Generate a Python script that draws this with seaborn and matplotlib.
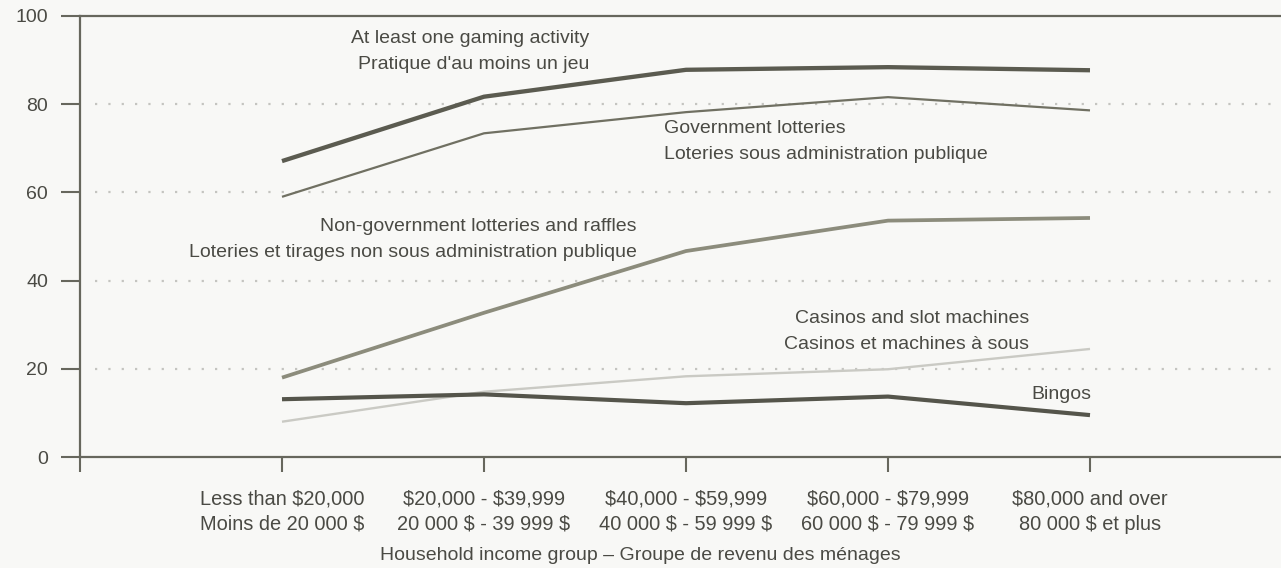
import matplotlib
matplotlib.use("Agg")
import matplotlib.pyplot as plt
import seaborn as sns
import pandas as pd

# ---- data ----
categories_en = ["Less than $20,000", "$20,000 - $39,999", "$40,000 - $59,999",
                 "$60,000 - $79,999", "$80,000 and over"]
categories_fr = ["Moins de 20 000 $", "20 000 $ - 39 999 $", "40 000 $ - 59 999 $",
                 "60 000 $ - 79 999 $", "80 000 $ et plus"]
at_least_one = [67.1, 81.7, 87.8, 88.4, 87.7]
gov_lotteries = [59.0, 73.4, 78.2, 81.6, 78.6]
non_gov_lotteries = [18.0, 32.7, 46.7, 53.6, 54.2]
casinos = [8.0, 14.8, 18.3, 19.9, 24.5]
bingos = [13.1, 14.2, 12.2, 13.7, 9.5]
y_ticks = [0, 20, 40, 60, 80, 100]

series_names = ["at_least_one", "gov", "non_gov", "casinos", "bingos"]
series_values = [at_least_one, gov_lotteries, non_gov_lotteries, casinos, bingos]

rows = []
for name, vals in zip(series_names, series_values):
    for i, v in enumerate(vals):
        rows.append({"series": name, "pos": i + 1, "value": v})
df = pd.DataFrame(rows)

styles = {
    "at_least_one": ("#5b5b50", 3.1),
    "gov": ("#707062", 1.6),
    "non_gov": ("#8c8c7c", 2.7),
    "casinos": ("#cacac4", 1.7),
    "bingos": ("#55554b", 3.0),
}

sns.set_theme(style="white")
plt.rcParams["font.family"] = ["Liberation Sans", "DejaVu Sans"]
plt.rcParams["text.parse_math"] = False
text_color = "#4a4a44"
spine_color = "#67675d"
fs = 14

fig = plt.figure(figsize=(12.81, 5.68), dpi=100)
fig.patch.set_facecolor("#f8f8f6")
ax = fig.add_axes([80 / 1281, 111 / 568, (1281 - 80) / 1281, (457 - 16) / 568])
ax.set_facecolor("#f8f8f6")

for name in series_names:
    c, lw = styles[name]
    sub = df[df["series"] == name]
    sns.lineplot(data=sub, x="pos", y="value", ax=ax, color=c, linewidth=lw,
                 solid_capstyle="butt", legend=False)

ax.set_xlim(0, 1201 / 202)
ax.set_ylim(0, 100)

for y in y_ticks[1:-1]:
    ax.axhline(y, color="#c4c4c0", linewidth=1.6, linestyle=(0, (1, 5)),
               xmin=15 / 1201, zorder=0)

ax.set_yticks(y_ticks)
ax.set_yticklabels([str(t) for t in y_ticks], fontsize=fs, color=text_color)
ax.set_xticks([0, 1, 2, 3, 4, 5])
ax.set_xticklabels([""] + [f"{e}\n{f}" for e, f in zip(categories_en, categories_fr)],
                   fontsize=14.4, color=text_color, linespacing=1.4)
ax.tick_params(axis="y", direction="out", length=13.5, width=1.5, color=spine_color,
               pad=9.5, left=True)
ax.tick_params(axis="x", direction="out", length=11, width=1.5, color=spine_color,
               pad=12.5, bottom=True)
ax.set_xlabel("")
ax.set_ylabel("")

for side in ["left", "bottom", "top"]:
    ax.spines[side].set_visible(True)
    ax.spines[side].set_color(spine_color)
    ax.spines[side].set_linewidth(1.6)
ax.spines["right"].set_visible(False)

ax.text(2.52, 94.8, "At least one gaming activity", ha="right", va="center",
        fontsize=fs, color=text_color)
ax.text(2.52, 89.0, "Pratique d'au moins un jeu", ha="right", va="center",
        fontsize=fs, color=text_color)
ax.text(2.89, 74.5, "Government lotteries", ha="left", va="center",
        fontsize=fs, color=text_color)
ax.text(2.89, 68.6, "Loteries sous administration publique", ha="left", va="center",
        fontsize=fs, color=text_color)
ax.text(2.757, 52.3, "Non-government lotteries and raffles", ha="right", va="center",
        fontsize=fs, color=text_color)
ax.text(2.757, 46.4, "Loteries et tirages non sous administration publique", ha="right",
        va="center", fontsize=fs, color=text_color)
ax.text(4.70, 31.4, "Casinos and slot machines", ha="right", va="center",
        fontsize=fs, color=text_color)
ax.text(4.70, 25.5, "Casinos et machines à sous", ha="right", va="center",
        fontsize=fs, color=text_color)
ax.text(5.005, 14.2, "Bingos", ha="right", va="center", fontsize=fs, color=text_color)

fig.text(640 / 1281, 1 - 555 / 568, "Household income group – Groupe de revenu des ménages",
         ha="center", va="center", fontsize=fs, color=text_color)

fig.savefig("out.png", dpi=100, facecolor=fig.get_facecolor())
